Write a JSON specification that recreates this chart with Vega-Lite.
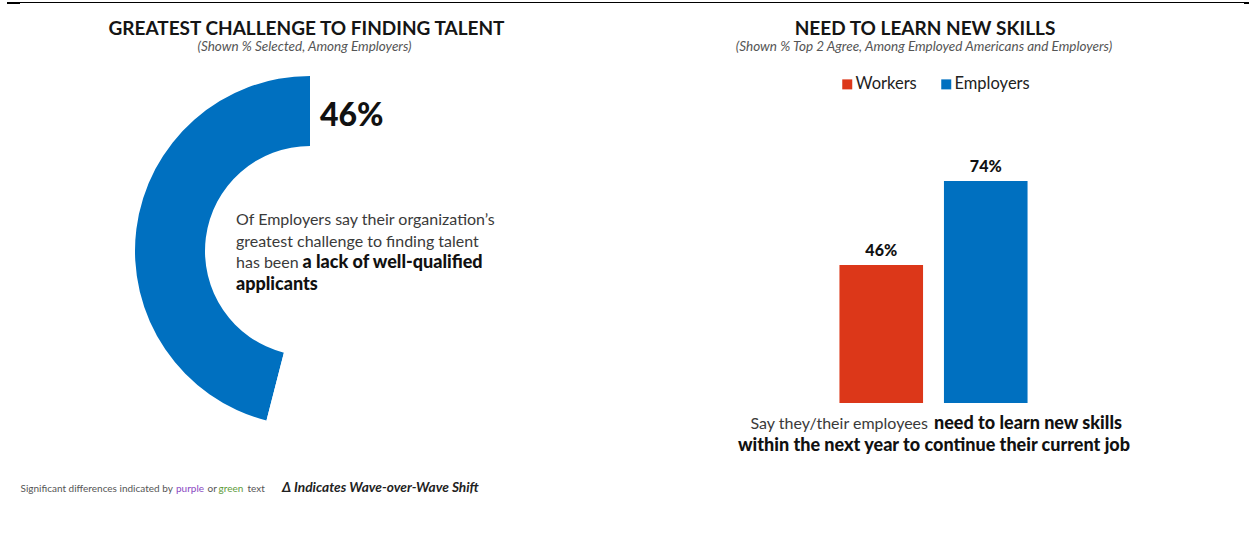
{
  "$schema": "https://vega.github.io/schema/vega-lite/v6.json",
  "background": "white",
  "padding": {"left": 0, "top": 2, "right": 0, "bottom": 4},
  "bounds": "flush",
  "spacing": 209,
  "resolve": {"scale": {"color": "independent"}, "legend": {"color": "independent"}},
  "config": {
    "view": {"stroke": null},
    "text": {"font": "Lato"}
  },
  "datasets": {
    "challenge": [
      {"segment": "A lack of well-qualified applicants", "share": 0.46},
      {"segment": "Other challenges", "share": 0.54}
    ],
    "skills": [
      {"group": "Workers", "share": 0.46},
      {"group": "Employers", "share": 0.74}
    ]
  },
  "hconcat": [
    {
      "width": 620,
      "height": 296,
      "data": {"name": "challenge"},
      "layer": [
        {
          "mark": {"type": "arc", "innerRadius": 105, "outerRadius": 175},
          "encoding": {
            "theta": {"field": "share", "type": "quantitative", "stack": true},
            "order": {"field": "share", "sort": "descending"},
            "color": {
              "field": "segment", "type": "nominal",
              "scale": {"domain": ["A lack of well-qualified applicants", "Other challenges"], "range": ["#0070C0", "#ffffff"]},
              "legend": null
            }
          }
        },
        {
          "transform": [{"filter": "datum.segment === 'A lack of well-qualified applicants'"}],
          "mark": {"type": "text", "x": 320, "y": 23, "align": "left", "baseline": "alphabetic", "fontSize": 32, "fontWeight": 900, "color": "#111111"},
          "encoding": {"text": {"field": "share", "type": "quantitative", "format": ".0%"}}
        },
        {
          "data": {"values": [{}]},
          "mark": {"type": "text", "text": "Of Employers say their organization’s", "x": 236, "y": 122, "align": "left", "baseline": "alphabetic", "fontSize": 16, "color": "#3a3a3a"},
          "encoding": {}
        },
        {
          "data": {"values": [{}]},
          "mark": {"type": "text", "text": "greatest challenge to finding talent", "x": 236, "y": 143.5, "align": "left", "baseline": "alphabetic", "fontSize": 16, "color": "#3a3a3a"},
          "encoding": {}
        },
        {
          "data": {"values": [{}]},
          "mark": {"type": "text", "text": "has been", "x": 236, "y": 165, "align": "left", "baseline": "alphabetic", "fontSize": 16, "color": "#3a3a3a"},
          "encoding": {}
        },
        {
          "data": {"values": [{}]},
          "mark": {"type": "text", "text": "a lack of well-qualified", "x": 302.5, "y": 165, "align": "left", "baseline": "alphabetic", "fontSize": 18, "fontWeight": 900, "color": "#111111"},
          "encoding": {}
        },
        {
          "data": {"values": [{}]},
          "mark": {"type": "text", "text": "applicants", "x": 236, "y": 187, "align": "left", "baseline": "alphabetic", "fontSize": 18, "fontWeight": 900, "color": "#111111"},
          "encoding": {}
        },
        {
          "data": {"values": [{}]},
          "mark": {"type": "text", "text": "GREATEST CHALLENGE TO FINDING TALENT", "x": 306.5, "y": -68, "align": "center", "baseline": "alphabetic", "fontSize": 19, "fontWeight": "bold", "color": "#151515"},
          "encoding": {}
        },
        {
          "data": {"values": [{}]},
          "mark": {"type": "text", "text": "(Shown % Selected, Among Employers)", "x": 304.5, "y": -52, "align": "center", "baseline": "alphabetic", "fontSize": 13.5, "fontStyle": "italic", "color": "#555555"},
          "encoding": {}
        },
        {
          "data": {"values": [{}]},
          "mark": {"type": "text", "text": "Significant differences indicated by", "x": 20.5, "y": 389, "align": "left", "baseline": "alphabetic", "fontSize": 10, "color": "#555555"},
          "encoding": {}
        },
        {
          "data": {"values": [{}]},
          "mark": {"type": "text", "text": "purple", "x": 176, "y": 389, "align": "left", "baseline": "alphabetic", "fontSize": 10, "color": "#8A49C2"},
          "encoding": {}
        },
        {
          "data": {"values": [{}]},
          "mark": {"type": "text", "text": "or", "x": 207.5, "y": 389, "align": "left", "baseline": "alphabetic", "fontSize": 10, "color": "#555555"},
          "encoding": {}
        },
        {
          "data": {"values": [{}]},
          "mark": {"type": "text", "text": "green", "x": 218.5, "y": 389, "align": "left", "baseline": "alphabetic", "fontSize": 10, "color": "#5E9B3A"},
          "encoding": {}
        },
        {
          "data": {"values": [{}]},
          "mark": {"type": "text", "text": "text", "x": 247.5, "y": 389, "align": "left", "baseline": "alphabetic", "fontSize": 10, "color": "#555555"},
          "encoding": {}
        },
        {
          "data": {"values": [{}]},
          "mark": {"type": "text", "text": "Δ Indicates Wave-over-Wave Shift", "x": 282, "y": 389, "align": "left", "baseline": "alphabetic", "fontSize": 13.7, "fontStyle": "italic", "fontWeight": "bold", "color": "#222222"},
          "encoding": {}
        },
        {
          "data": {"values": [{}]},
          "mark": {"type": "rule", "color": "#000000", "strokeWidth": 1},
          "encoding": {"x": {"value": 7}, "x2": {"value": 1249}, "y": {"value": -100.5}}
        },
        {
          "data": {"values": [{}]},
          "mark": {"type": "rule", "color": "#000000", "strokeWidth": 2},
          "encoding": {"x": {"value": 7}, "x2": {"value": 20}, "y": {"value": -100}}
        },
        {
          "data": {"values": [{}]},
          "mark": {"type": "rule", "color": "#000000", "strokeWidth": 2},
          "encoding": {"x": {"value": 1244}, "x2": {"value": 1249}, "y": {"value": -100}}
        }
      ]
    },
    {
      "width": 209,
      "height": 300,
      "data": {"name": "skills"},
      "layer": [
        {
          "mark": {"type": "bar"},
          "encoding": {
            "x": {"field": "group", "type": "nominal", "sort": ["Workers", "Employers"], "axis": null, "scale": {"paddingInner": 0.2, "paddingOuter": 0.1}},
            "y": {"field": "share", "type": "quantitative", "axis": null, "scale": {"domain": [0, 1]}},
            "color": {
              "field": "group", "type": "nominal",
              "sort": ["Workers", "Employers"],
              "scale": {"domain": ["Workers", "Employers"], "range": ["#DC3719", "#0070C0"]},
              "legend": {
                "title": null, "orient": "none", "legendX": 10, "legendY": -27, "direction": "horizontal",
                "symbolType": "square", "symbolSize": 100, "symbolStrokeWidth": 0, "symbolOpacity": 1,
                "labelFont": "Lato", "labelFontSize": 16.5, "labelColor": "#222222", "labelOffset": 0,
                "columnPadding": 21, "padding": 0
              }
            }
          }
        },
        {
          "mark": {"type": "text", "dy": -9, "baseline": "alphabetic", "fontSize": 16, "fontWeight": 900, "color": "#111111"},
          "encoding": {
            "x": {"field": "group", "type": "nominal", "sort": ["Workers", "Employers"]},
            "y": {"field": "share", "type": "quantitative"},
            "text": {"field": "share", "type": "quantitative", "format": ".0%"}
          }
        },
        {
          "data": {"values": [{}]},
          "mark": {"type": "text", "text": "NEED TO LEARN NEW SKILLS", "x": 96, "y": -68, "align": "center", "baseline": "alphabetic", "fontSize": 19, "fontWeight": "bold", "color": "#151515"},
          "encoding": {}
        },
        {
          "data": {"values": [{}]},
          "mark": {"type": "text", "text": "(Shown % Top 2 Agree, Among Employed Americans and Employers)", "x": 95, "y": -52, "align": "center", "baseline": "alphabetic", "fontSize": 13.5, "fontStyle": "italic", "color": "#555555"},
          "encoding": {}
        },
        {
          "data": {"values": [{}]},
          "mark": {"type": "text", "text": "Say they/their employees", "x": 99, "y": 326, "align": "right", "baseline": "alphabetic", "fontSize": 16, "color": "#3a3a3a"},
          "encoding": {}
        },
        {
          "data": {"values": [{}]},
          "mark": {"type": "text", "text": "need to learn new skills", "x": 105, "y": 326, "align": "left", "baseline": "alphabetic", "fontSize": 18, "fontWeight": 900, "color": "#111111"},
          "encoding": {}
        },
        {
          "data": {"values": [{}]},
          "mark": {"type": "text", "text": "within the next year to continue their current job", "x": 105, "y": 348, "align": "center", "baseline": "alphabetic", "fontSize": 18, "fontWeight": 900, "color": "#111111"},
          "encoding": {}
        }
      ]
    }
  ]
}
